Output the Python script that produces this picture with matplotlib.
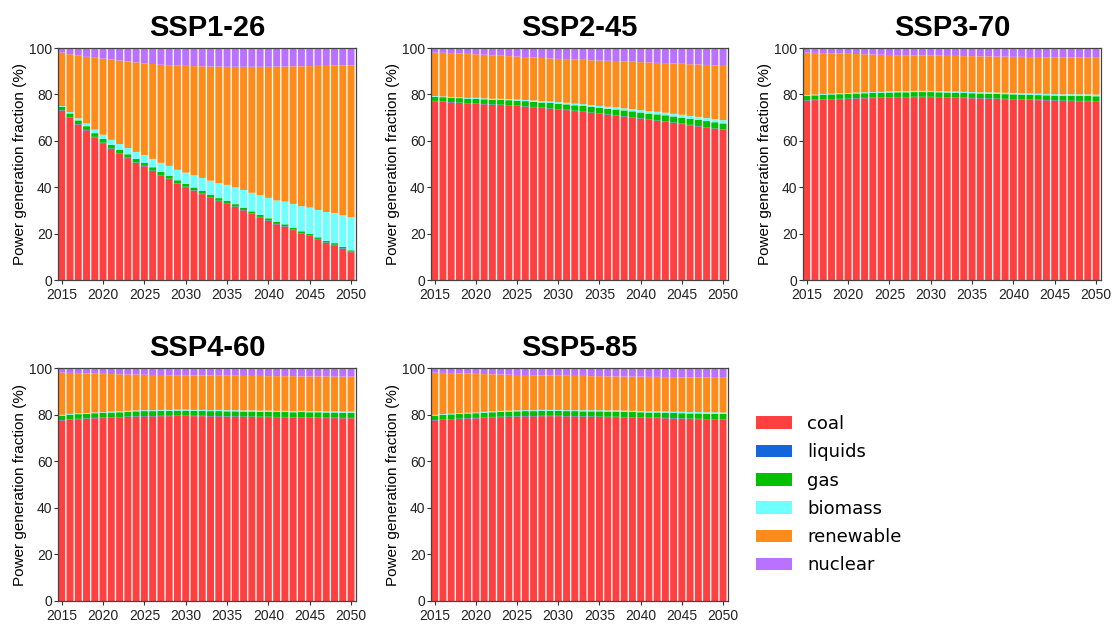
import numpy as np
import matplotlib
matplotlib.use("Agg")
import matplotlib.pyplot as plt
from matplotlib.patches import Patch

plt.rcParams["font.family"] = ["Liberation Sans", "DejaVu Sans"]

YEARS = list(range(2015, 2051))
FUELS = ["coal", "liquids", "gas", "biomass", "renewable", "nuclear"]
COLORS = ["#FF4040", "#1466DC", "#00C000", "#70FFFF", "#FF8C1A", "#B872FF"]
SCENARIOS = ["SSP1-26", "SSP2-45", "SSP3-70", "SSP4-60", "SSP5-85"]

# shares in % of power generation, 2015..2050
ssp126_coal = [73, 70, 67, 64.5, 61.5, 59, 56.5, 54.5, 52.5, 50.5, 49, 47, 45, 43.5, 41.5, 40, 38.5, 37,
               35.5, 34, 33, 31.5, 30, 28.5, 27, 25.5, 24, 23, 21.5, 20, 19, 17.5, 16, 15, 13.5, 12]
ssp126_liquids = [0.2] * 36
ssp126_gas = [1.5, 1.6, 1.6, 1.6, 1.6, 1.6, 1.6, 1.5, 1.5, 1.5, 1.4, 1.4, 1.4, 1.3, 1.3, 1.3, 1.2, 1.2,
              1.1, 1.1, 1.0, 1.0, 1.0, 0.9, 0.9, 0.9, 0.8, 0.8, 0.8, 0.8, 0.7, 0.7, 0.7, 0.7, 0.6, 0.6]
ssp126_biomass = [0.3, 0.6, 0.9, 1.2, 1.5, 1.8, 2.1, 2.4, 2.7, 3.0, 3.3, 3.6, 3.9, 4.2, 4.5, 4.8, 5.2, 5.6,
                  6.0, 6.4, 6.8, 7.2, 7.6, 8.0, 8.4, 8.8, 9.3, 9.8, 10.3, 10.8, 11.3, 11.8, 12.4, 13.0, 13.6, 14.2]
ssp126_renewable = [23.0, 24.9, 27.0, 28.7, 31.0, 32.8, 34.6, 36.0, 37.3, 38.6, 39.5, 40.9, 42.3, 43.4, 44.9,
                    46.0, 47.1, 48.1, 49.2, 50.3, 50.9, 52.0, 53.1, 54.3, 55.4, 56.5, 57.7, 58.2, 59.3, 60.3,
                    61.0, 62.1, 63.0, 63.5, 64.6, 65.5]
ssp126_nuclear = [2.0, 2.7, 3.3, 3.8, 4.2, 4.6, 5.0, 5.4, 5.8, 6.2, 6.6, 6.9, 7.2, 7.4, 7.6, 7.7, 7.8, 7.9,
                  8.0, 8.0, 8.1, 8.1, 8.1, 8.1, 8.1, 8.1, 8.0, 8.0, 7.9, 7.9, 7.8, 7.7, 7.7, 7.6, 7.5, 7.5]

ssp245_coal = [77, 76.8, 76.5, 76.3, 76.1, 75.9, 75.7, 75.5, 75.4, 75.2, 75.0, 74.7, 74.4, 74.1, 73.8, 73.5,
               73.2, 72.8, 72.4, 72.0, 71.6, 71.2, 70.8, 70.4, 70.0, 69.5, 69.0, 68.6, 68.2, 67.7, 67.2,
               66.7, 66.2, 65.7, 65.2, 64.7]
ssp245_liquids = [0.2] * 36
ssp245_gas = [1.8, 1.8, 1.9, 1.9, 1.9, 2.0, 2.0, 2.0, 2.1, 2.1, 2.1, 2.2, 2.2, 2.2, 2.3, 2.3, 2.3, 2.3,
              2.4, 2.4, 2.4, 2.4, 2.5, 2.5, 2.5, 2.5, 2.5, 2.6, 2.6, 2.6, 2.6, 2.6, 2.6, 2.6, 2.6, 2.6]
ssp245_biomass = [0.3, 0.3, 0.3, 0.3, 0.3, 0.4, 0.4, 0.4, 0.4, 0.5, 0.5, 0.5, 0.6, 0.6, 0.6, 0.7, 0.7, 0.7,
                  0.8, 0.8, 0.8, 0.9, 0.9, 0.9, 1.0, 1.0, 1.0, 1.1, 1.1, 1.1, 1.2, 1.2, 1.3, 1.3, 1.4, 1.4]
ssp245_renewable = [18.7, 18.8, 18.9, 18.9, 19.0, 18.8, 18.8, 18.8, 18.6, 18.5, 18.5, 18.5, 18.5, 18.6, 18.6,
                    18.6, 18.8, 19.0, 19.1, 19.3, 19.6, 19.8, 20.0, 20.2, 20.4, 20.7, 21.1, 21.1, 21.4, 21.7,
                    22.0, 22.3, 22.6, 22.9, 23.1, 23.4]
ssp245_nuclear = [2.0, 2.1, 2.2, 2.4, 2.5, 2.7, 2.9, 3.1, 3.3, 3.5, 3.7, 3.9, 4.1, 4.3, 4.5, 4.7, 4.8, 5.0,
                  5.1, 5.3, 5.4, 5.5, 5.6, 5.8, 5.9, 6.1, 6.2, 6.4, 6.5, 6.7, 6.8, 7.0, 7.1, 7.3, 7.5, 7.7]

ssp370_coal = [77.3, 77.5, 77.7, 77.8, 77.9, 78.0, 78.2, 78.3, 78.4, 78.5, 78.6, 78.7, 78.7, 78.8, 78.8, 78.8,
               78.7, 78.6, 78.5, 78.4, 78.3, 78.2, 78.1, 78.0, 77.9, 77.8, 77.7, 77.6, 77.5, 77.4, 77.3,
               77.2, 77.1, 77.0, 77.0, 76.9]
ssp370_liquids = [0.2] * 36
ssp370_gas = [1.9, 1.9] + [2.0] * 30 + [2.1] * 4
ssp370_biomass = [0.3, 0.3, 0.3, 0.3, 0.4, 0.4, 0.4, 0.4, 0.4, 0.4, 0.5, 0.5, 0.5, 0.5, 0.5, 0.5, 0.5, 0.5,
                  0.5, 0.5, 0.5, 0.5, 0.6, 0.6, 0.6, 0.6, 0.6, 0.6, 0.6, 0.6, 0.6, 0.6, 0.7, 0.7, 0.7, 0.7]
ssp370_renewable = [18.3, 18.0, 17.6, 17.4, 17.1, 16.9, 16.6, 16.4, 16.2, 16.0, 15.7, 15.5, 15.5, 15.3, 15.3,
                    15.2, 15.3, 15.3, 15.4, 15.4, 15.5, 15.5, 15.5, 15.5, 15.6, 15.6, 15.7, 15.7, 15.8, 15.8,
                    15.9, 16.0, 15.8, 15.9, 15.8, 15.9]
ssp370_nuclear = [2.0, 2.1, 2.2, 2.3, 2.4, 2.5, 2.6, 2.7, 2.8, 2.9, 3.0, 3.1, 3.1, 3.2, 3.2, 3.3, 3.3, 3.4,
                  3.4, 3.5, 3.5, 3.6, 3.6, 3.7, 3.7, 3.8, 3.8, 3.9, 3.9, 4.0, 4.0, 4.0, 4.1, 4.1, 4.2, 4.2]

ssp460_coal = [77.5, 77.8, 78.0, 78.2, 78.4, 78.5, 78.7, 78.8, 79.0, 79.1, 79.2, 79.2, 79.3, 79.3, 79.4, 79.4,
               79.3, 79.3, 79.2, 79.2, 79.1, 79.1, 79.0, 79.0, 78.9, 78.9, 78.8, 78.8, 78.7, 78.7, 78.6,
               78.6, 78.5, 78.5, 78.4, 78.4]
ssp460_liquids = [0.2] * 36
ssp460_gas = [1.9] + [2.0] * 8 + [2.1] * 20 + [2.2] * 7
ssp460_biomass = [0.3] * 6 + [0.4] * 13 + [0.5] * 17
ssp460_renewable = [18.1, 17.6, 17.3, 17.0, 16.7, 16.5, 16.1, 15.9, 15.6, 15.4, 15.2, 15.1, 15.0, 14.9, 14.8,
                    14.8, 14.8, 14.8, 14.9, 14.7, 14.8, 14.8, 14.8, 14.8, 14.9, 14.8, 14.9, 14.9, 15.0, 14.8,
                    14.9, 14.9, 15.0, 14.9, 15.0, 15.0]
ssp460_nuclear = [2.0, 2.1, 2.2, 2.3, 2.4, 2.5, 2.6, 2.7, 2.8, 2.8, 2.9, 3.0, 3.0, 3.1, 3.1, 3.1, 3.2, 3.2,
                  3.2, 3.3, 3.3, 3.3, 3.4, 3.4, 3.4, 3.5, 3.5, 3.5, 3.5, 3.6, 3.6, 3.6, 3.6, 3.7, 3.7, 3.7]

ssp585_coal = [77.5, 77.7, 77.9, 78.1, 78.3, 78.4, 78.6, 78.8, 78.9, 79.0, 79.1, 79.2, 79.2, 79.3, 79.3, 79.3,
               79.2, 79.2, 79.1, 79.1, 79.0, 78.9, 78.9, 78.8, 78.7, 78.6, 78.5, 78.5, 78.4, 78.3, 78.2,
               78.1, 78.0, 77.9, 77.9, 77.8]
ssp585_liquids = [0.2] * 36
ssp585_gas = [1.9] + [2.0] * 7 + [2.1] * 12 + [2.2] * 12 + [2.3] * 4
ssp585_biomass = [0.3] * 6 + [0.4] * 12 + [0.5] * 12 + [0.6] * 6
ssp585_renewable = [18.1, 17.7, 17.4, 17.1, 16.8, 16.6, 16.2, 15.9, 15.6, 15.4, 15.2, 15.1, 15.0, 14.8, 14.8,
                    14.7, 14.8, 14.7, 14.7, 14.6, 14.6, 14.6, 14.6, 14.6, 14.7, 14.8, 14.8, 14.8, 14.8, 14.9,
                    14.8, 14.9, 14.8, 14.9, 14.8, 14.9]
ssp585_nuclear = [2.0, 2.1, 2.2, 2.3, 2.4, 2.5, 2.6, 2.7, 2.8, 2.9, 3.0, 3.0, 3.1, 3.2, 3.2, 3.3, 3.3, 3.4,
                  3.4, 3.5, 3.5, 3.6, 3.6, 3.7, 3.7, 3.7, 3.8, 3.8, 3.9, 3.9, 4.0, 4.0, 4.1, 4.1, 4.2, 4.2]

data = {
    "SSP1-26": [ssp126_coal, ssp126_liquids, ssp126_gas, ssp126_biomass, ssp126_renewable, ssp126_nuclear],
    "SSP2-45": [ssp245_coal, ssp245_liquids, ssp245_gas, ssp245_biomass, ssp245_renewable, ssp245_nuclear],
    "SSP3-70": [ssp370_coal, ssp370_liquids, ssp370_gas, ssp370_biomass, ssp370_renewable, ssp370_nuclear],
    "SSP4-60": [ssp460_coal, ssp460_liquids, ssp460_gas, ssp460_biomass, ssp460_renewable, ssp460_nuclear],
    "SSP5-85": [ssp585_coal, ssp585_liquids, ssp585_gas, ssp585_biomass, ssp585_renewable, ssp585_nuclear],
}

W, H = 1118, 624
fig = plt.figure(figsize=(W / 100, H / 100), dpi=100)
# axes boxes in pixels: left, top, right, bottom
boxes = [(58, 48, 356, 280), (431, 48, 728, 280), (803, 48, 1101, 280),
         (58, 368, 356, 601), (431, 368, 728, 601)]

for name, (l, t, r, b) in zip(SCENARIOS, boxes):
    ax = fig.add_axes([l / W, 1 - b / H, (r - l) / W, (b - t) / H])
    bottom = np.zeros(len(YEARS))
    for vals, col in zip(data[name], COLORS):
        v = np.array(vals, dtype=float)
        ax.bar(YEARS, v, bottom=bottom, width=0.84, color=col, linewidth=0, snap=False)
        bottom += v
    ax.set_xlim(2014.55, 2050.6)
    ax.set_ylim(0, 100)
    ax.set_xticks(range(2015, 2051, 5))
    ax.set_yticks(range(0, 101, 20))
    ax.tick_params(labelsize=10, length=3, color="#333333", labelcolor="#222222", pad=1)
    ax.tick_params(axis="x", pad=3)
    for s in ax.spines.values():
        s.set_color("#444444")
        s.set_linewidth(0.9)
    ax.set_ylabel("Power generation fraction (%)", fontsize=11, labelpad=2)
    ax.set_title(name, fontsize=21, fontweight="bold", pad=9)

handles = [Patch(facecolor=c, edgecolor="none") for c in COLORS]
fig.legend(handles, FUELS, loc="upper left", bbox_to_anchor=(756 / W, 1 - 415 / H),
           frameon=False, borderpad=0, borderaxespad=0, handlelength=2.0, handleheight=0.7,
           handletextpad=0.85, labelspacing=0.57, prop={"family": "DejaVu Sans", "size": 13})

fig.savefig("out.png", dpi=100)
